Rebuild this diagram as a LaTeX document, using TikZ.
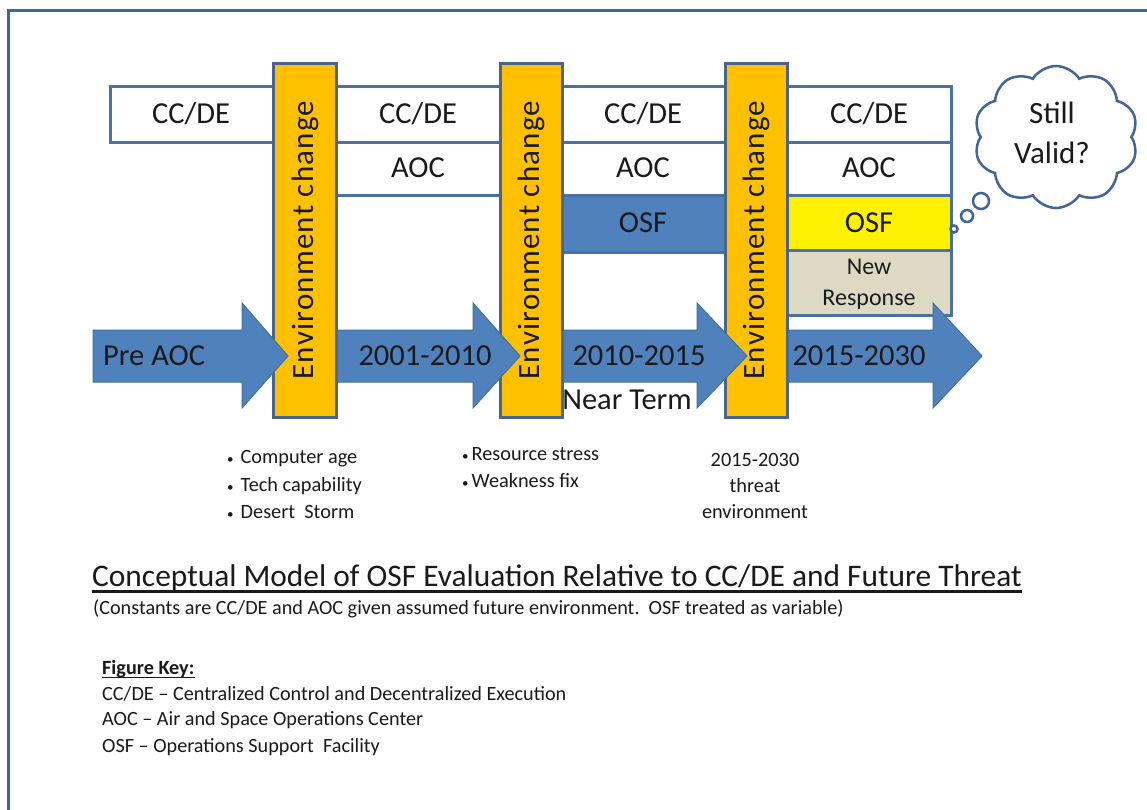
\documentclass[tikz,border=0pt]{standalone}
\usepackage{fontspec}
\setmainfont{Carlito}
\newfontfamily\envfont[LetterSpace=4]{Carlito}
\usetikzlibrary{shapes.symbols}
\definecolor{framec}{HTML}{41659A}
\definecolor{rowc}{HTML}{4A70A8}
\definecolor{arrowf}{HTML}{4F81BD}
\definecolor{arrowd}{HTML}{41719C}
\definecolor{barf}{HTML}{FFC000}
\definecolor{bard}{HTML}{4A6490}
\definecolor{grayf}{HTML}{DDD9C3}
\definecolor{txt}{HTML}{1A1A1A}
\newcommand{\bul}{{\fontsize{13}{13}\selectfont •}}
\tikzset{
  rowline/.style={draw=rowc, line width=3pt},
  barbox/.style={draw=bard, fill=barf, line width=3pt},
  bigarrow/.style={fill=arrowf, draw=arrowd, line width=1pt},
  lbl/.style={text=txt, inner sep=0pt, font=\fontsize{30.5}{34}\selectfont},
  small/.style={text=txt, inner sep=0pt, font=\fontsize{20.3}{24}\selectfont},
  keytxt/.style={text=txt, inner sep=0pt, anchor=west, font=\fontsize{20.2}{24}\selectfont},
  envtxt/.style={text=txt, inner sep=0pt, rotate=90, font=\envfont\fontsize{31}{36}\selectfont},
  bubble/.style={draw=framec, fill=white, line width=2.5pt, circle, inner sep=0pt},
}
\begin{document}
\begin{tikzpicture}[x=1pt,y=-1pt]
\useasboundingbox (0,0) rectangle (1147,809);
\clip (0,0) rectangle (1147,809);
\fill[white] (0,0) rectangle (1147,809);
% outer frame
\draw[framec, line width=3pt] (8,830) -- (8,10) -- (1170,10);

% rows
\draw[rowline, fill=white] (110,86) rectangle (951,142);
\draw[rowline, fill=white] (336,142) rectangle (951,195);
\draw[rowline, fill=arrowf] (562,195) rectangle (725,252);
\draw[rowline, fill=yellow] (787,195) rectangle (951,250);
\draw[rowline, fill=grayf] (787,250) rectangle (951,315);

% row texts
\node[lbl] (cc1) at (191,114) {CC/DE};
\node[lbl] (cc2) at (418,114) {CC/DE};
\node[lbl] (cc3) at (643,114) {CC/DE};
\node[lbl] (cc4) at (869,114) {CC/DE};
\node[lbl] (aoc2) at (418,168) {AOC};
\node[lbl] (aoc3) at (643,168) {AOC};
\node[lbl] (aoc4) at (869,168) {AOC};
\node[lbl] (osf3) at (643,223) {OSF};
\node[lbl] (osf4) at (869,223) {OSF};
\node[text=txt, inner sep=0pt, align=center, font=\fontsize{24}{31}\selectfont] (newr) at (869,284) {New\\Response};

% environment bars
\draw[barbox] (273,63) rectangle (336,417);
\draw[barbox] (500,63) rectangle (562,417);
\draw[barbox] (725,63) rectangle (787,417);

% arrows
\draw[bigarrow] (93,330) -- (242,330) -- (242,303) -- (288,356) -- (242,408) -- (242,382) -- (93,382) -- cycle;
\draw[bigarrow] (337.5,330) -- (473,330) -- (473,303) -- (520,356) -- (473,408) -- (473,382) -- (337.5,382) -- cycle;
\draw[bigarrow] (563.5,330) -- (697,330) -- (697,303) -- (747,356) -- (697,408) -- (697,382) -- (563.5,382) -- cycle;
\draw[bigarrow] (788.5,330) -- (933,330) -- (933,303) -- (982,356) -- (933,408) -- (933,382) -- (788.5,382) -- cycle;

% environment texts
\node[envtxt] (env1) at (305,240) {Environment change};
\node[envtxt] (env2) at (531,240) {Environment change};
\node[envtxt] (env3) at (756,240) {Environment change};

% arrow texts
\node[lbl, anchor=west] (pre) at (103,356) {Pre AOC};
\node[lbl] (p1) at (425,356) {2001-2010};
\node[lbl] (p2) at (639,356) {2010-2015};
\node[lbl] (p3) at (859,356) {2015-2030};
\node[lbl] (near) at (627,400) {Near Term};

% cloud
\node[cloud, cloud puffs=10, cloud puff arc=115, aspect=1.15, draw=framec, fill=white, line width=2.5pt, minimum width=164, minimum height=142, inner sep=0pt] (cloud) at (1056,137) {};
\node[lbl, align=center, font=\fontsize{31}{40}\selectfont] (valid) at (1052,133) {Still\\Valid?};
\node[bubble, minimum size=7] (b1) at (954,229) {};
\node[bubble, minimum size=12] (b2) at (967,216) {};
\node[bubble, minimum size=16] (b3) at (981,201) {};

% driver texts
\node[small, anchor=west] (d1) at (227,459) {\bul\hspace{7pt}Computer age};
\node[small, anchor=west] (d2) at (227,486) {\bul\hspace{7pt}Tech capability};
\node[small, anchor=west] (d3) at (227,512) {\bul\hspace{7pt}Desert\ \ Storm};
\node[small, anchor=west] (d4) at (462,454) {\bul\hspace{3pt}Resource stress};
\node[small, anchor=west] (d5) at (462,481) {\bul\hspace{3pt}Weakness fix};
\node[small, align=center, font=\fontsize{20.3}{26}\selectfont] (d6) at (755,486) {2015-2030\\threat\\environment};

% title and key
\node[text=txt, inner sep=0pt, anchor=base west, font=\fontsize{31.4}{34}\selectfont] (title) at (92,586) {Conceptual Model of OSF Evaluation Relative to CC/DE and Future Threat};
\draw[txt, line width=2.2pt] ([yshift=-5.5pt]title.base west) -- ([yshift=-5.5pt]title.base east);
\node[keytxt] (sub) at (93,609) {(Constants are CC/DE and AOC given assumed future environment.\ \ OSF treated as variable)};
\node[keytxt, anchor=base west, font=\bfseries\fontsize{20.2}{24}\selectfont] (key) at (102,674) {Figure Key:};
\draw[txt, line width=1.4pt] ([yshift=-3.5pt]key.base west) -- ([yshift=-3.5pt]key.base east);
\node[keytxt] (k1) at (102,694) {CC/DE – Centralized Control and Decentralized Execution};
\node[keytxt] (k2) at (102,720) {AOC – Air and Space Operations Center};
\node[keytxt] (k3) at (102,747) {OSF – Operations Support\ \ Facility};
\end{tikzpicture}
\end{document}
